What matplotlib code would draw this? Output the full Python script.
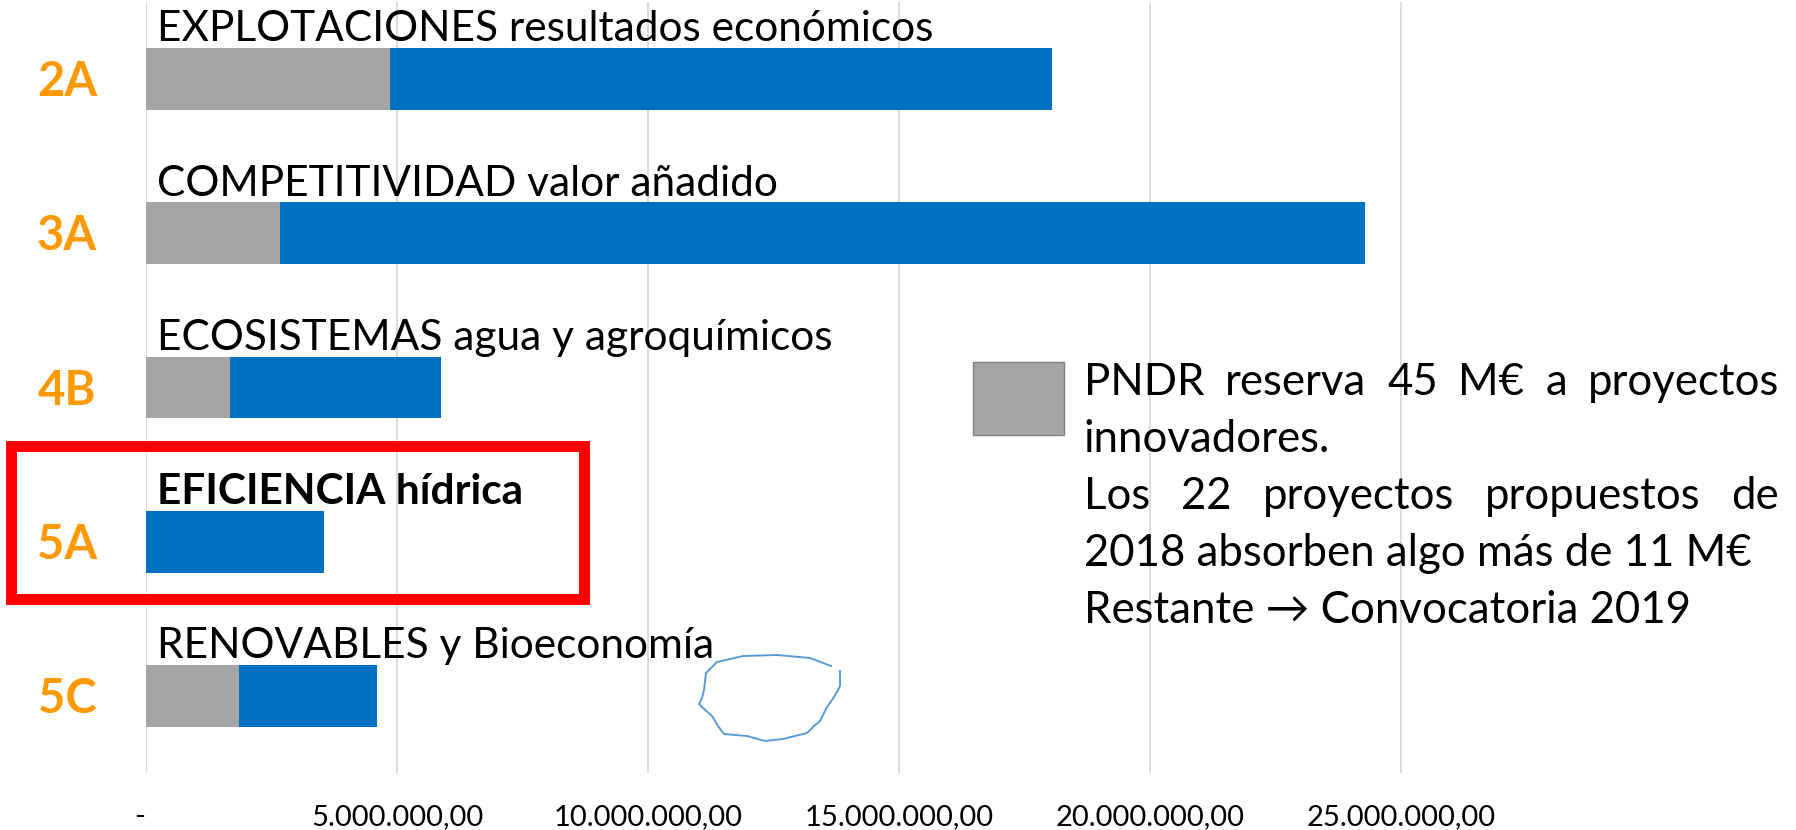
import matplotlib
matplotlib.use('Agg')
import matplotlib.pyplot as plt
from matplotlib.patches import Rectangle
from matplotlib.lines import Line2D
from matplotlib.transforms import blended_transform_factory, ScaledTranslation

# data (euros)
codes = ['2A', '3A', '4B', '5A', '5C']
titles = ['EXPLOTACIONES resultados económicos',
          'COMPETITIVIDAD valor añadido',
          'ECOSISTEMAS agua y agroquímicos',
          'EFICIENCIA hídrica',
          'RENOVABLES y Bioeconomía']
innovative = [4870000, 2660000, 1680000, 0, 1860000]
remaining = [13170000, 21630000, 4200000, 3550000, 2740000]
tick_values = [0, 5000000, 10000000, 15000000, 20000000, 25000000]
tick_labels = ['-', '5.000.000,00', '10.000.000,00', '15.000.000,00',
               '20.000.000,00', '25.000.000,00']
note_lines = ['PNDR reserva 45 M€ a proyectos',
              'innovadores.',
              'Los 22 proyectos propuestos de',
              '2018 absorben algo más de 11 M€',
              'Restante \u2192 Convocatoria 2019']
justified = [True, False, True, False, False]

# hand drawn mark on the slide, in pixels
scribble_x = [831, 810, 777, 743, 717, 706, 704, 702, 699, 703, 712, 718, 724,
              747, 765, 783, 807, 813, 820, 825, 827, 832, 837, 840, 840]
scribble_y = [666, 658, 655, 656, 662, 673, 690, 698, 704, 708, 716, 726, 734,
              736, 741, 739, 733, 727, 721, 711, 707, 700, 692, 686, 671]

W, H = 1796, 830
GREY = '#A5A5A5'
BLUE = '#0070C0'
ORANGE = '#FF9900'
FONT = ['Lato', 'DejaVu Sans']
plt.rcParams['font.family'] = FONT


def fx(x):
    return x / W


def fy(y):
    return 1 - y / H


fig = plt.figure(figsize=(W / 100, H / 100), dpi=100)
ax = fig.add_axes([fx(146), fy(773), 1 - fx(146), (773 - 2) / H])

pos = list(range(len(codes)))
ax.barh(pos, innovative, height=0.40, color=GREY, zorder=2)
ax.barh(pos, remaining, left=innovative, height=0.40, color=BLUE, zorder=2)

ax.set_xlim(0, (W - 146) / 50.2 * 1e6)
ax.set_ylim(4.5, -0.5)
ax.set_xticks(tick_values)
ax.set_xticklabels(tick_labels, fontsize=21)
ax.set_yticks([])
ax.tick_params(axis='x', length=0, pad=22)
ax.xaxis.grid(True, color='#D9D9D9', linewidth=1.3)
ax.set_axisbelow(True)
for s in ax.spines.values():
    s.set_visible(False)
# the "-" label sits a little left of the zero line
lbl0 = ax.get_xticklabels()[0]
lbl0.set_transform(lbl0.get_transform() + ScaledTranslation(-0.06, 0, fig.dpi_scale_trans))

for i, t in enumerate(titles):
    ax.text(0.22e6, i - 0.245, t, va='baseline', ha='left', fontsize=30.5,
            fontweight='bold' if i == 3 else 'normal', color='black')

trans = blended_transform_factory(fig.transFigure, ax.transData)
for i, c in enumerate(codes):
    ax.text(fx(67), i + 0.02, c, transform=trans, ha='center', va='center',
            fontsize=34, fontweight='bold', color=ORANGE)

# red highlight frame
fig.add_artist(Rectangle((fx(11), fy(598.5)), (583.5 - 11) / W, (598.5 - 446) / H,
                         transform=fig.transFigure, fill=False,
                         edgecolor='#FF0000', linewidth=7.9))

# legend square + note
fig.add_artist(Rectangle((fx(973), fy(435)), 91 / W, 73 / H,
                         transform=fig.transFigure, facecolor=GREY,
                         edgecolor='#7F7F7F', linewidth=1))

renderer = fig.canvas.get_renderer()
x0, x1 = 1084, 1779
for k, line in enumerate(note_lines):
    y = fy(395 + 57 * k)
    if not justified[k]:
        fig.text(fx(x0), y, line, va='baseline', ha='left', fontsize=31.5)
        continue
    words = line.split()
    texts = [fig.text(0, y, w, va='baseline', ha='left', fontsize=31.5) for w in words]
    widths = [t.get_window_extent(renderer).width for t in texts]
    gap = (x1 - x0 - sum(widths)) / (len(words) - 1)
    x = x0
    for t, w in zip(texts, widths):
        t.set_x(fx(x))
        x += w + gap

fig.add_artist(Line2D([fx(v) for v in scribble_x], [fy(v) for v in scribble_y],
                      transform=fig.transFigure, color='#5B9BD5', linewidth=1.4))

fig.savefig('out.png', dpi=100)
